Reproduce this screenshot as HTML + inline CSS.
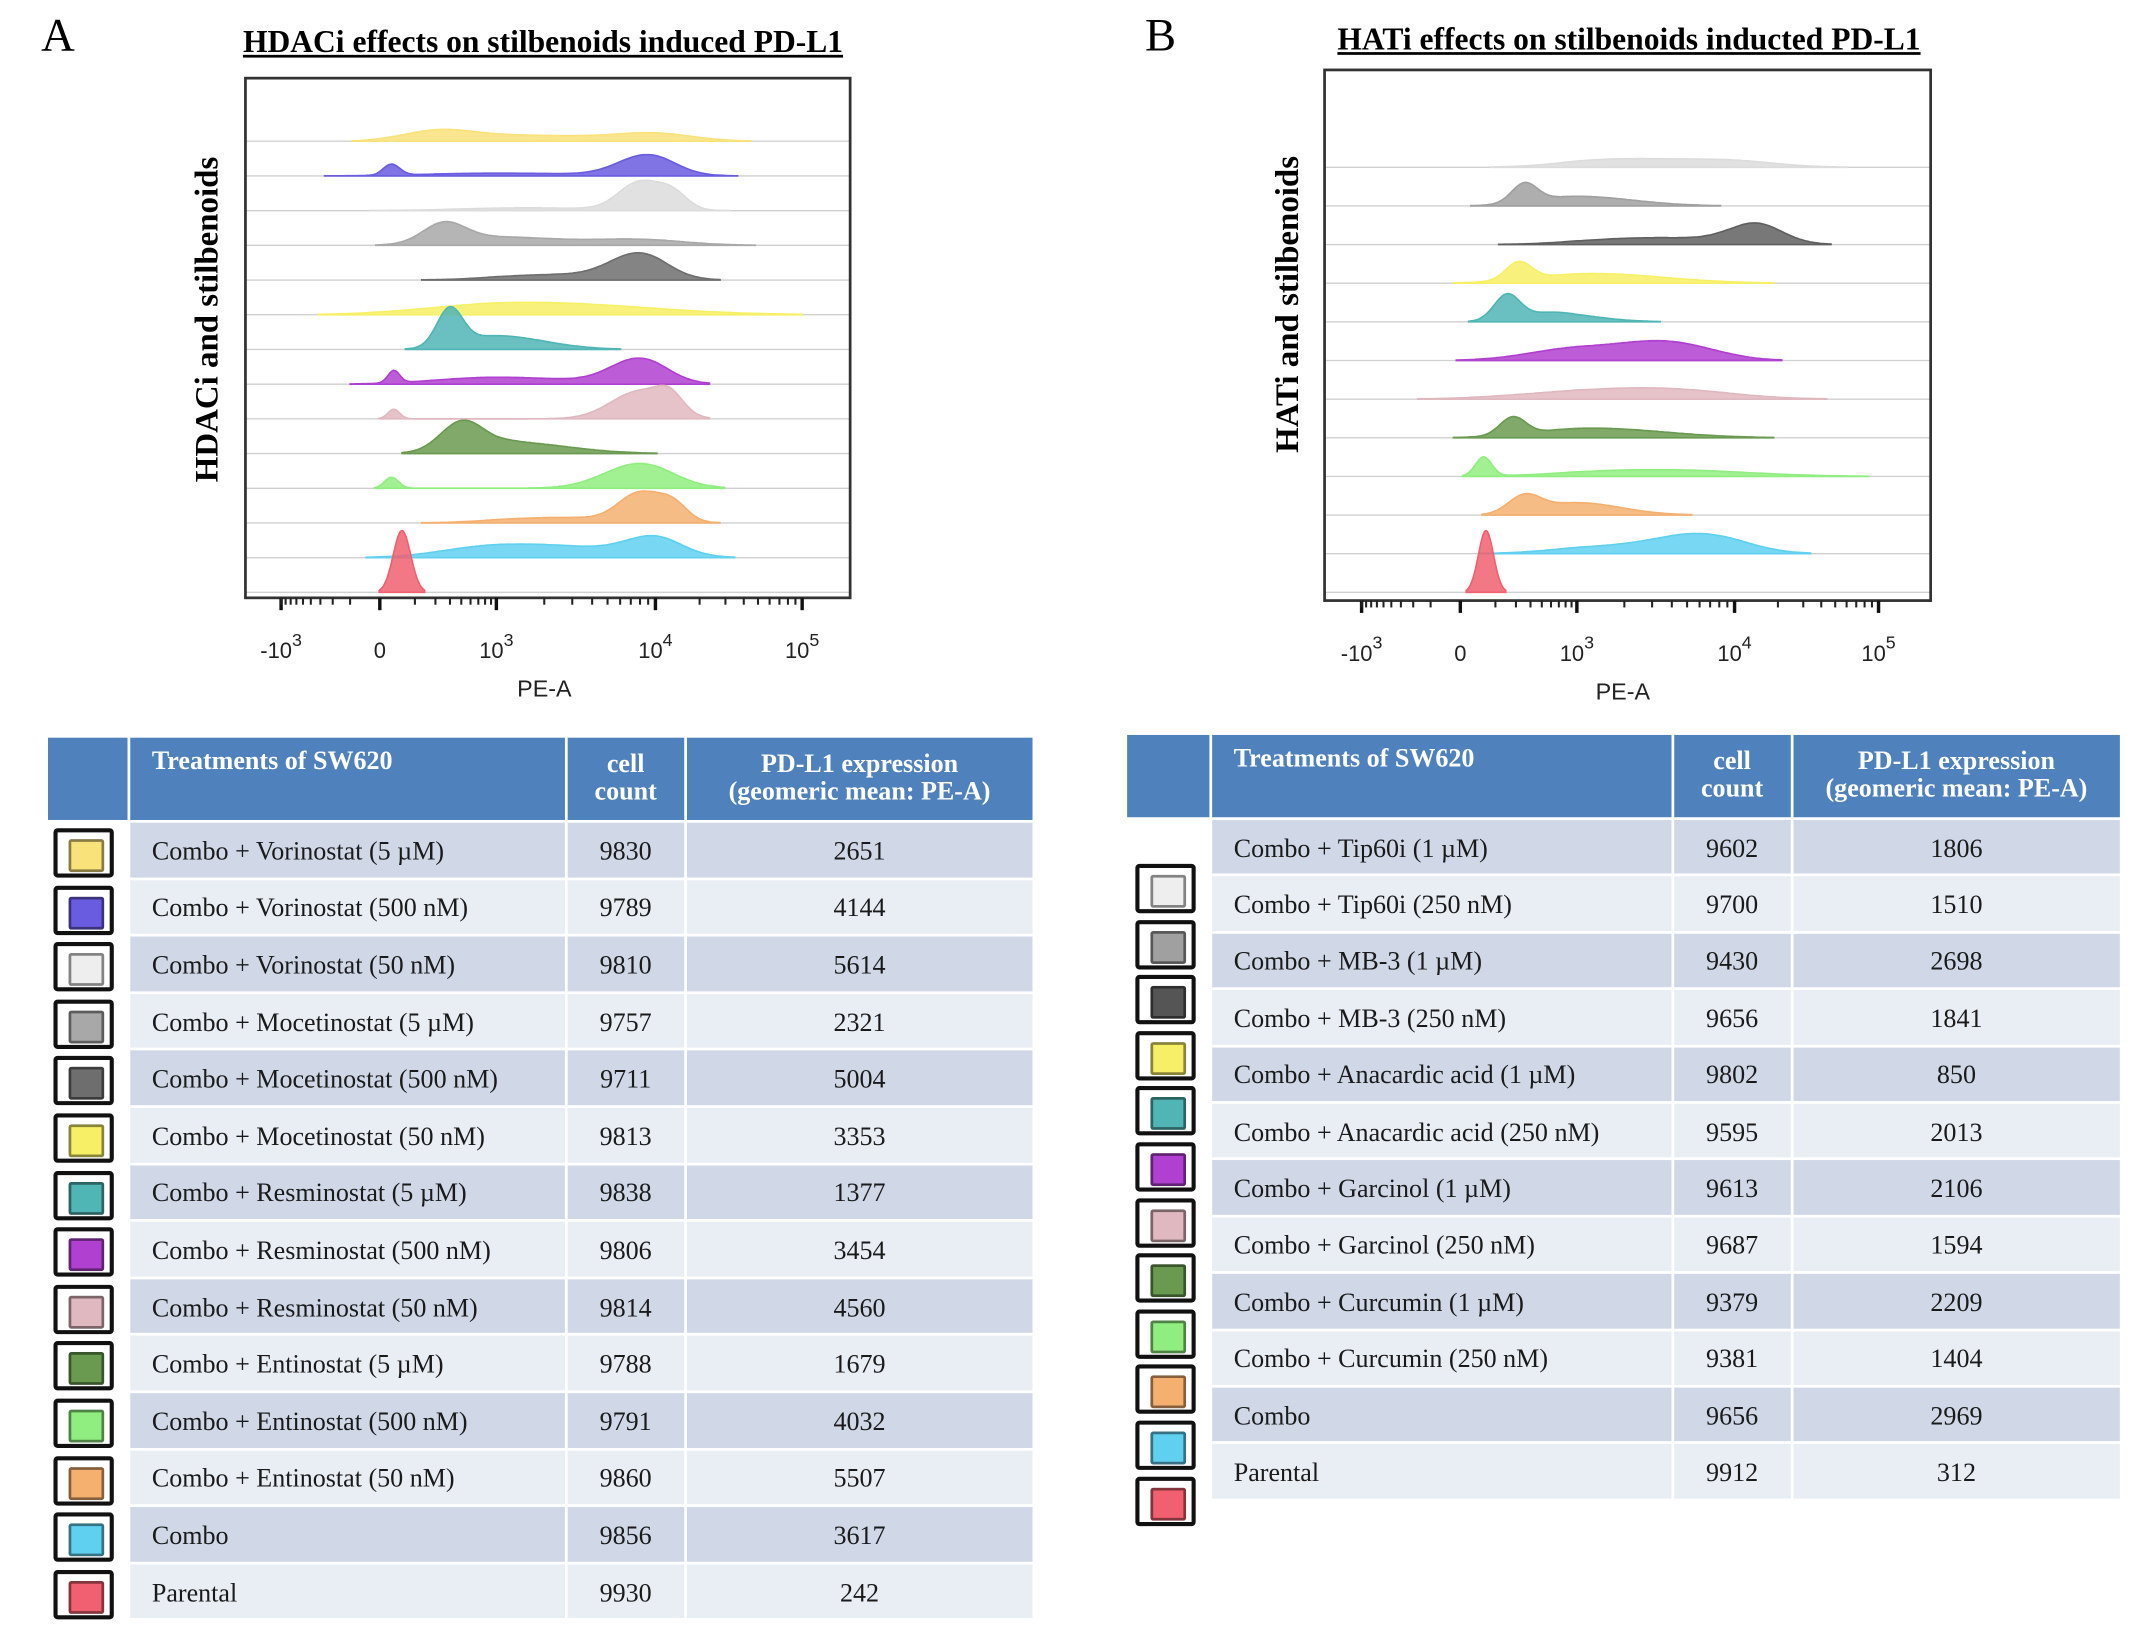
<!DOCTYPE html>
<html><head><meta charset="utf-8">
<style>
html,body{margin:0;padding:0;background:#fff;}
body{width:2150px;height:1635px;overflow:hidden;position:relative;}
#stage{position:absolute;left:0;top:0;width:1568px;height:1193px;transform:scale(1.3712);transform-origin:0 0;font-family:"Liberation Serif",serif;}
.abs{position:absolute;}
.letter{font-size:34px;}
.title{font-size:23px;font-weight:bold;text-decoration:underline;white-space:nowrap;transform:translateX(-50%);}
.ylab{font-size:24px;font-weight:bold;white-space:nowrap;transform:translate(-50%,-50%) rotate(-90deg);}
table{position:absolute;border-collapse:collapse;font-size:19px;color:#1a1a1a;}
td,th{padding:0;border:2px solid #fff;}
th{background:#4f81bd;color:#fff;font-weight:bold;font-size:19px;line-height:20px;}
td.t{padding-left:16px;text-align:left;padding-top:4px;}
td.c{text-align:center;padding-top:4px;}
tr.o td{background:#d0d8e8;}
tr.e td{background:#e9edf4;}
td.sw{background:#fff !important;}
.swbox{position:absolute;width:44px;height:36px;border:3px solid #111;border-radius:3px;box-sizing:border-box;background:#fff;}
.swbox div{position:absolute;left:8px;top:5px;width:22px;height:20px;border:2px solid rgba(0,0,0,0.45);border-radius:2px;}
</style></head>
<body>
<div id="stage">
<div class="abs letter" style="left:30px;top:8px">A</div>
<div class="abs title" style="left:396px;top:18px">HDACi effects on stilbenoids induced PD-L1</div>
<div class="abs ylab" style="left:152px;top:233px">HDACi and stilbenoids</div>
<div class="abs letter" style="left:835px;top:8px">B</div>
<div class="abs title" style="left:1188px;top:16px">HATi effects on stilbenoids inducted PD-L1</div>
<div class="abs ylab" style="left:940px;top:222px">HATi and stilbenoids</div>
<svg id="plots" class="abs" style="left:0;top:0" width="1568" height="530"></svg>

<table id="tabA" style="left:33px;top:536px;width:722px"></table>
<table id="tabB" style="left:820px;top:534px;width:728px"></table>
<div id="swA"></div>
<div id="swB"></div>
</div>
<script>
// ---- Panel A data ----
const tickLabelsA = ["-10","0","10","10","10"];
const tickExpA = ["3","","3","4","5"];
const tickU = [-1,0,1,2,3];
const colorsA = ["#f9e27a","#6a5ce0","#dcdcdc","#a8a8a8","#6e6e6e","#f7f066","#50b5b5","#b040d0","#e0b8c0","#6a9a50","#90ee80","#f5b070","#60d0f0","#f06070"];
const peaksA = [
 [[0.5,7,0.3],[1.2,4,0.5],[2.0,5,0.25]],
 [[0.1,8,0.07],[1.0,2,0.6],[1.95,15,0.18]],
 [[1.9,20,0.13],[2.12,12,0.1],[1.2,2,0.5]],
 [[0.55,14,0.18],[1.0,6,0.4],[1.9,4,0.3]],
 [[1.9,18,0.18],[1.4,4,0.4]],
 [[1.2,9,0.7]],
 [[0.6,27,0.11],[1.0,10,0.3]],
 [[0.12,9,0.05],[1.0,5,0.5],[1.9,18,0.18]],
 [[0.12,7,0.05],[1.9,20,0.18],[2.1,12,0.09]],
 [[0.7,20,0.18],[1.1,8,0.35]],
 [[0.1,8,0.06],[1.9,18,0.22]],
 [[1.9,20,0.13],[2.12,13,0.1],[1.4,4,0.4]],
 [[0.9,7,0.4],[1.5,6,0.4],[2.0,13,0.18]],
 [[0.19,45,0.075]]
];
const treatA = ["Combo + Vorinostat (5 µM)","Combo + Vorinostat (500 nM)","Combo + Vorinostat (50 nM)","Combo + Mocetinostat (5 µM)","Combo + Mocetinostat (500 nM)","Combo + Mocetinostat (50 nM)","Combo + Resminostat (5 µM)","Combo + Resminostat (500 nM)","Combo + Resminostat (50 nM)","Combo + Entinostat (5 µM)","Combo + Entinostat (500 nM)","Combo + Entinostat (50 nM)","Combo","Parental"];
const countA = [9830,9789,9810,9757,9711,9813,9838,9806,9814,9788,9791,9860,9856,9930];
const exprA = [2651,4144,5614,2321,5004,3353,1377,3454,4560,1679,4032,5507,3617,242];
// ---- Panel B data ----
const colorsB = ["#dcdcdc","#a0a0a0","#606060","#f7f066","#50b5b5","#b040d0","#e0b8c0","#6a9a50","#90ee80","#f5b070","#60d0f0","#f06070"];
const peaksB = [
 [[1.3,6,0.4],[2.0,4,0.3]],
 [[0.55,14,0.11],[1.0,7,0.35]],
 [[1.5,5,0.45],[2.15,14,0.18]],
 [[0.5,13,0.11],[1.1,7,0.45]],
 [[0.4,18,0.11],[0.8,7,0.28]],
 [[1.0,9,0.4],[1.6,11,0.28]],
 [[1.0,5,0.55],[1.6,5,0.4]],
 [[0.45,13,0.11],[1.1,7,0.45]],
 [[0.2,14,0.07],[1.5,5,0.55]],
 [[0.55,13,0.14],[1.0,9,0.28]],
 [[1.8,13,0.28],[1.2,5,0.4]],
 [[0.22,45,0.065]]
];
const swatchB = ["#eeeeee","#a0a0a0","#555555","#f7f066","#50b5b5","#b040d0","#e0b8c0","#6a9a50","#90ee80","#f5b070","#60d0f0","#f06070"];
const treatB = ["Combo + Tip60i (1 µM)","Combo + Tip60i (250 nM)","Combo + MB-3 (1 µM)","Combo +  MB-3 (250 nM)","Combo + Anacardic acid (1 µM)","Combo + Anacardic acid (250 nM)","Combo + Garcinol (1 µM)","Combo + Garcinol (250 nM)","Combo + Curcumin (1 µM)","Combo + Curcumin (250 nM)","Combo","Parental"];
const countB = [9602,9700,9430,9656,9802,9595,9613,9687,9379,9381,9656,9912];
const exprB = [1806,1510,2698,1841,850,2013,2106,1594,2209,1404,2969,312];

const NS="http://www.w3.org/2000/svg";
const svg=document.getElementById('plots');
function mk(tag,attrs,parent){const e=document.createElementNS(NS,tag);for(const k in attrs)e.setAttribute(k,attrs[k]);(parent||svg).appendChild(e);return e;}

function drawPanel(cfg){
  const g=mk('g',{});
  
  
  const xs=cfg.tickX;
  const xScale=u=>{ if(u<=tickU[0])return xs[0]+(u-tickU[0])*(xs[1]-xs[0]);
    for(let i=0;i<tickU.length-1;i++){ if(u<=tickU[i+1]) return xs[i]+(u-tickU[i])/(tickU[i+1]-tickU[i])*(xs[i+1]-xs[i]); }
    return xs[xs.length-1]; };
  const n=cfg.peaks.length;
  const baseY=i=>cfg.yTop+(cfg.yBot-cfg.yTop)*i/(n-1);
  for(let i=0;i<n;i++){
    const by=baseY(i), col=cfg.colors[i];
    const ln=mk('line',{x1:cfg.box[0],x2:cfg.box[2],y1:by,y2:by,stroke:'#d0d0d0','stroke-width':1},g);
    
    
    let d='', first=true;
    const pk=cfg.peaks[i];
    let umin=Math.min(...pk.map(p=>p[0]-2.6*p[2])), umax=Math.max(...pk.map(p=>p[0]+2.6*p[2]));
    for(let k=0;k<=160;k++){
      const u=umin+(umax-umin)*k/160;
      let h=0; pk.forEach(p=>{h+=p[1]*Math.exp(-0.5*Math.pow((u-p[0])/p[2],2));});
      d+=(first?'M':'L')+xScale(u).toFixed(1)+','+(by-h).toFixed(1); first=false;
    }
    d+='L'+xScale(umax).toFixed(1)+','+by+'L'+xScale(umin).toFixed(1)+','+by+'Z';
    const p=mk('path',{d:d,fill:col,'fill-opacity':0.85,stroke:col,'stroke-width':1.2},g);
    
    
  }
  const b=cfg.box;
  const r=mk('rect',{x:b[0],y:b[1],width:b[2]-b[0],height:b[3]-b[1],fill:'none',stroke:'#333','stroke-width':2},g);
  
  
  const ay=b[3];
  for(let i=0;i<tickU.length;i++){
    const x=xs[i];
    const t=mk('line',{x1:x,x2:x,y1:ay,y2:ay+9,stroke:'#111','stroke-width':2.5},g);
    
    
    if(i<tickU.length-1){
      for(let m=1;m<10;m++){
        const mx=(i==0)? xs[1]-(xs[1]-xs[0])*Math.log10(10-m+1) : xScale(tickU[i]+Math.log10(m+1));
        const mt=mk('line',{x1:mx,x2:mx,y1:ay,y2:ay+5,stroke:'#222','stroke-width':1.5},g);
        
        
      }
    }
    const tx=mk('text',{x:x,y:ay+44,'font-family':'Liberation Sans, sans-serif','font-size':16,'text-anchor':'middle',fill:'#222'},g);
    
    
    tx.textContent=cfg.labels[i];
    if(cfg.exps[i]){const ts=mk('tspan',{dy:-9,'font-size':13},tx);ts.textContent=cfg.exps[i];}
  }
  const xt=mk('text',{x:(xs[0]+xs[4])/2+2,y:ay+72,'font-family':'Liberation Sans, sans-serif','font-size':17,'text-anchor':'middle',fill:'#222'},g);
  
  
  xt.textContent='PE-A';
}
drawPanel({name:'panel-a-histogram',box:[179,57,620,436],tickX:[205,277,362,478,585],peaks:peaksA,colors:colorsA,yTop:103,yBot:432,labels:tickLabelsA,exps:tickExpA});
drawPanel({name:'panel-b-histogram',box:[966,51,1408,438],tickX:[993,1065,1150,1265,1370],peaks:peaksB,colors:colorsB,yTop:122,yBot:432,labels:tickLabelsA,exps:tickExpA});

function buildTable(id,treat,count,expr,widths,hdrH,rowH){
  const t=document.getElementById(id);
  let h='<colgroup>'+widths.map(w=>'<col style="width:'+w+'px">').join('')+'</colgroup>';
  h+='<tr style="height:'+hdrH+'px"><th></th><th style="text-align:left;padding-left:16px;vertical-align:top;padding-top:8px">Treatments of SW620</th><th>cell<br>count</th><th>PD-L1 expression<br>(geomeric mean: PE-A)</th></tr>';
  for(let i=0;i<treat.length;i++){
    h+='<tr class="'+(i%2?'e':'o')+'" style="height:'+rowH+'px"><td class="sw"></td><td class="t">'+treat[i]+'</td><td class="c">'+count[i]+'</td><td class="c">'+expr[i]+'</td></tr>';
  }
  t.innerHTML=h;
}
buildTable('tabA',treatA,countA,exprA,[60,320,87,255],62,41.6);
buildTable('tabB',treatB,countB,exprB,[62,338,87,241],62,41.4);

function buildSw(id,colors,x,y0,step){
  const c=document.getElementById(id);
  colors.forEach((col,i)=>{
    const d=document.createElement('div');
    d.className='swbox';
    d.style.left=x+'px';d.style.top=(y0+i*step)+'px';
    
    
    const s=document.createElement('div');s.style.background=col;
    d.appendChild(s);c.appendChild(d);
  });
}
buildSw('swA',["#f9e27a","#6a5ce0","#eeeeee","#a8a8a8","#6e6e6e","#f7f066","#50b5b5","#b040d0","#e0b8c0","#6a9a50","#90ee80","#f5b070","#60d0f0","#f06070"],39,604,41.6);
buildSw('swB',swatchB,828,630,40.6);
</script>
</body></html>
